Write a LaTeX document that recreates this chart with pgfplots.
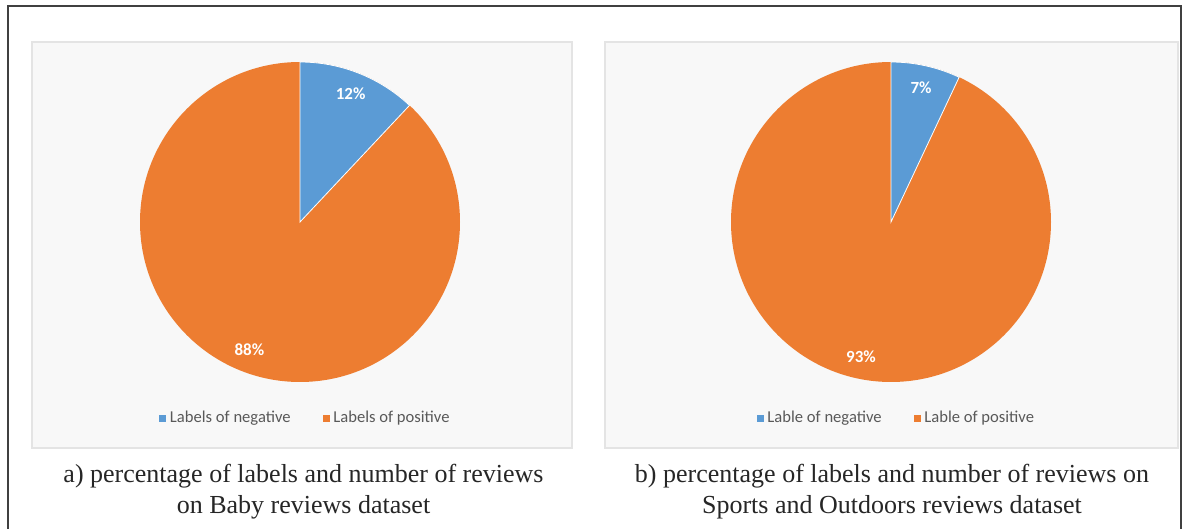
\documentclass[border=0pt]{standalone}
\usepackage{pgfplots}
\pgfplotsset{compat=1.18}
\usepackage{pgfplotstable}
\usepackage{fontspec}
\setmainfont{Liberation Serif}
\newfontfamily\calfont{Carlito}
\definecolor{pieblue}{HTML}{5B9BD5}
\definecolor{pieorange}{HTML}{ED7D31}
\definecolor{panelfill}{HTML}{F8F8F8}
\definecolor{panelline}{HTML}{E4E4E4}
\definecolor{legtext}{HTML}{595959}

\pgfplotstableread{
label value
negative 12
positive 88
}\babydata
\pgfplotstableread{
label value
negative 7
positive 93
}\sportsdata

\pgfplotsset{
  piestyle/.style={
    hide axis, scale only axis, width=160pt, height=160pt,
    xmin=-1, xmax=1, ymin=-1, ymax=1, anchor=center, clip=false,
    legend columns=2,
    legend style={draw=none, fill=none, at={(0.52,-0.1125)}, anchor=center,
      font=\calfont\fontsize{8.3}{10}\selectfont, text=legtext,
      /tikz/every odd column/.append style={inner xsep=1pt},
      /tikz/every even column/.append style={column sep=14pt}},
  },
}
\tikzset{pielabel/.style={font=\calfont\bfseries\fontsize{8.5}{10}\selectfont, text=white}}

\begin{document}
\begin{tikzpicture}[x=0.5pt,y=-0.5pt]
\useasboundingbox (0,0) rectangle (1190,529);
% outer frame (open at the bottom)
\draw[line width=0.8pt, black!75] (8,540) -- (8,6) -- (1181,6) -- (1181,540);
% panels
\filldraw[fill=panelfill, draw=panelline, line width=0.6pt] (32,42) rectangle (572,448);
\filldraw[fill=panelfill, draw=panelline, line width=0.6pt] (605,42) rectangle (1178,448);
\coordinate (c1) at (300,222);
\coordinate (c2) at (891,222);

% values
\pgfplotstablegetelem{0}{value}\of\babydata \let\aNeg\pgfplotsretval
\pgfplotstablegetelem{1}{value}\of\babydata \let\aPos\pgfplotsretval
\pgfmathsetmacro\aEnd{90-3.6*\aNeg}
\pgfmathsetmacro\aMidN{90-1.8*\aNeg}
\pgfmathsetmacro\aMidP{\aEnd-1.8*\aPos}
\pgfplotstablegetelem{0}{value}\of\sportsdata \let\bNeg\pgfplotsretval
\pgfplotstablegetelem{1}{value}\of\sportsdata \let\bPos\pgfplotsretval
\pgfmathsetmacro\bEnd{90-3.6*\bNeg}
\pgfmathsetmacro\bMidN{90-1.8*\bNeg}
\pgfmathsetmacro\bMidP{\bEnd-1.8*\bPos}

\begin{axis}[piestyle, at={(c1)}]
  \addlegendimage{legend image code/.code={\fill[pieblue] (0pt,-1.5pt) rectangle (3pt,1.5pt);}}
  \addlegendentry{Labels of negative}
  \addlegendimage{legend image code/.code={\fill[pieorange] (0pt,-1.5pt) rectangle (3pt,1.5pt);}}
  \addlegendentry{Labels of positive}
  \fill[pieorange] (axis cs:0,0) circle[radius=1];
  \filldraw[fill=pieblue, draw=white, line width=0.4pt] (axis cs:0,0) -- (axis cs:0,1) arc[start angle=90, end angle=\aEnd, radius=1] -- cycle;
  \node[pielabel] at (axis cs:{0.86*cos(\aMidN)},{0.86*sin(\aMidN)}) {\aNeg\%};
  \node[pielabel] at (axis cs:{0.86*cos(\aMidP)},{0.86*sin(\aMidP)}) {\aPos\%};
\end{axis}

\begin{axis}[piestyle, at={(c2)}]
  \addlegendimage{legend image code/.code={\fill[pieblue] (0pt,-1.5pt) rectangle (3pt,1.5pt);}}
  \addlegendentry{Lable of negative}
  \addlegendimage{legend image code/.code={\fill[pieorange] (0pt,-1.5pt) rectangle (3pt,1.5pt);}}
  \addlegendentry{Lable of positive}
  \fill[pieorange] (axis cs:0,0) circle[radius=1];
  \filldraw[fill=pieblue, draw=white, line width=0.4pt] (axis cs:0,0) -- (axis cs:0,1) arc[start angle=90, end angle=\bEnd, radius=1] -- cycle;
  \node[pielabel] at (axis cs:{0.86*cos(\bMidN)},{0.86*sin(\bMidN)}) {\bNeg\%};
  \node[pielabel] at (axis cs:{0.86*cos(\bMidP)},{0.86*sin(\bMidP)}) {\bPos\%};
\end{axis}

% captions
\begin{scope}[every node/.style={font=\fontsize{13}{15.5}\selectfont, text=black!85, anchor=base, inner sep=0pt}]
\node at (303.5,482) {a) percentage of labels and number of reviews};
\node at (303.5,513) {on Baby reviews dataset};
\node at (892,482) {b) percentage of labels and number of reviews on};
\node at (892,513) {Sports and Outdoors reviews dataset};
\end{scope}
\end{tikzpicture}
\end{document}
